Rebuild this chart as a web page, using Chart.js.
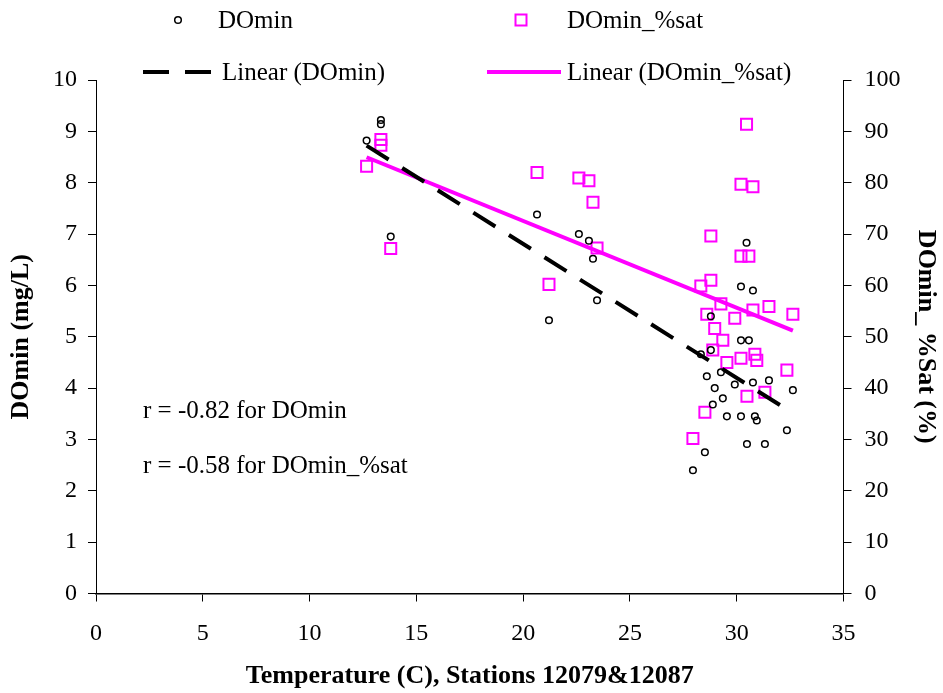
<!DOCTYPE html>
<html>
<head>
<meta charset="utf-8">
<script src="https://cdn.jsdelivr.net/npm/chart.js@4.4.0/dist/chart.umd.min.js"></script>
<style>
  html, body { margin: 0; padding: 0; background: #fff; }
  #wrap { width: 943px; height: 693px; }
</style>
</head>
<body>
<div id="wrap"><canvas id="chart" width="943" height="693"></canvas></div>
<script>
// === Data ===
const temperature = [13.34, 13.34, 12.67, 13.80, 20.65, 22.61, 23.08, 23.27, 23.46, 21.21,
    30.46, 30.20, 30.76, 28.79, 30.20, 30.57, 28.79, 28.32, 28.60, 29.26,
    28.97, 29.91, 30.76, 31.51, 32.63, 29.35, 28.88, 29.54, 30.20, 30.85,
    30.94, 32.35, 30.48, 31.32, 28.51, 27.95];
const doMin = [9.22, 9.14, 8.82, 6.95, 7.38, 7.00, 6.87, 6.52, 5.71, 5.32,
    6.83, 5.98, 5.90, 5.40, 4.93, 4.93, 4.74, 4.66, 4.23, 4.31,
    4.00, 4.07, 4.11, 4.15, 3.96, 3.80, 3.68, 3.45, 3.45, 3.45,
    3.37, 3.18, 2.91, 2.91, 2.75, 2.40];
const doMinSat = [88.4, 87.3, 83.2, 67.2, 82.0, 80.9, 80.4, 76.2, 67.3, 60.2,
    91.4, 79.7, 79.2, 69.6, 65.7, 65.7, 61.0, 59.9, 54.4, 56.4,
    51.6, 53.6, 55.2, 55.9, 54.4, 49.3, 47.4, 45.0, 45.8, 46.6,
    45.4, 43.5, 38.4, 39.2, 35.3, 30.2];
const xTicks = { min: 0, max: 35, step: 5 };
const yLeftTicks = { min: 0, max: 10, step: 1 };
const yRightTicks = { min: 0, max: 100, step: 10 };
const notes = ['r = -0.82 for DOmin', 'r = -0.58 for DOmin_%sat'];

// === Helpers ===
const SERIF = '"Liberation Serif", "Times New Roman", serif';
const PINK = '#ff00ff';
const TICK_SIZE = 24;
const TEXT_SIZE = 25;
const TITLE_SIZE = 26;

function toPoints(xs, ys) {
    return xs.map((x, i) => ({ x: x, y: ys[i] }));
}

// least squares trendline, same as the spreadsheet "Linear" trendline
function trendLine(xs, ys) {
    const n = xs.length;
    const mx = xs.reduce((a, b) => a + b, 0) / n;
    const my = ys.reduce((a, b) => a + b, 0) / n;
    let sxy = 0, sxx = 0;
    for (let i = 0; i < n; i++) {
        sxy += (xs[i] - mx) * (ys[i] - my);
        sxx += (xs[i] - mx) * (xs[i] - mx);
    }
    const slope = sxy / sxx;
    const b = my - slope * mx;
    const lo = Math.min(...xs), hi = Math.max(...xs);
    return [{ x: lo, y: slope * lo + b }, { x: hi, y: slope * hi + b }];
}

// === Custom legend (2 x 2) + r notes ===
const extrasPlugin = {
    id: 'extras',
    afterDraw(chart) {
        const ctx = chart.ctx;
        const area = chart.chartArea;
        ctx.save();
        ctx.fillStyle = '#000';
        ctx.font = TEXT_SIZE + 'px ' + SERIF;
        ctx.textBaseline = 'middle';

        // row 1: markers
        ctx.beginPath();
        ctx.arc(178, 20, 3.3, 0, Math.PI * 2);
        ctx.lineWidth = 1.5;
        ctx.strokeStyle = '#000';
        ctx.stroke();
        ctx.fillText('DOmin', 218, 21);

        ctx.strokeStyle = PINK;
        ctx.lineWidth = 2;
        ctx.strokeRect(515.5, 14.5, 11, 11);
        ctx.fillText('DOmin_%sat', 567, 21);

        // row 2: trendlines
        ctx.beginPath();
        ctx.setLineDash([26, 16]);
        ctx.strokeStyle = '#000';
        ctx.lineWidth = 4;
        ctx.moveTo(143, 72);
        ctx.lineTo(213, 72);
        ctx.stroke();
        ctx.setLineDash([]);
        ctx.fillText('Linear (DOmin)', 222, 73);

        ctx.beginPath();
        ctx.strokeStyle = PINK;
        ctx.moveTo(487, 72);
        ctx.lineTo(561, 72);
        ctx.stroke();
        ctx.fillText('Linear (DOmin_%sat)', 567, 73);

        // correlation notes
        ctx.fillText(notes[0], area.left + 47, 411);
        ctx.fillText(notes[1], area.left + 47, 466);
        ctx.restore();
    }
};

function axisGrid() {
    return {
        display: true,
        drawOnChartArea: false,
        drawTicks: true,
        tickLength: 8,
        tickWidth: 1,
        color: '#000'
    };
}

const ctx = document.getElementById('chart').getContext('2d');
new Chart(ctx, {
    type: 'scatter',
    data: {
        datasets: [
            {
                label: 'DOmin',
                data: toPoints(temperature, doMin),
                yAxisID: 'y',
                pointStyle: 'circle',
                pointRadius: 3.3,
                pointBorderWidth: 1.5,
                borderColor: '#000',
                backgroundColor: 'rgba(0,0,0,0)',
                order: 2
            },
            {
                label: 'DOmin_%sat',
                data: toPoints(temperature, doMinSat),
                yAxisID: 'y1',
                pointStyle: 'rect',
                pointRadius: 7.8,
                pointBorderWidth: 2,
                borderColor: PINK,
                backgroundColor: 'rgba(0,0,0,0)',
                order: 3
            },
            {
                label: 'Linear (DOmin)',
                data: trendLine(temperature, doMin),
                yAxisID: 'y',
                showLine: true,
                pointRadius: 0,
                borderColor: '#000',
                borderWidth: 4,
                borderDash: [26, 16],
                order: 1
            },
            {
                label: 'Linear (DOmin_%sat)',
                data: trendLine(temperature, doMinSat),
                yAxisID: 'y1',
                showLine: true,
                pointRadius: 0,
                borderColor: PINK,
                borderWidth: 4,
                order: 1
            }
        ]
    },
    options: {
        responsive: false,
        animation: false,
        layout: { padding: { top: 80, left: 0, right: 0, bottom: 0 } },
        plugins: {
            legend: { display: false },
            tooltip: { enabled: false }
        },
        scales: {
            x: {
                type: 'linear',
                min: xTicks.min,
                max: xTicks.max,
                grid: axisGrid(),
                border: { display: true, color: '#000', width: 1.5 },
                ticks: {
                    stepSize: xTicks.step,
                    color: '#000',
                    padding: 18,
                    maxRotation: 0,
                    font: { family: SERIF, size: TICK_SIZE }
                },
                title: {
                    display: true,
                    text: 'Temperature (C), Stations 12079&12087',
                    color: '#000',
                    font: { family: SERIF, size: TITLE_SIZE, weight: 'bold' },
                    padding: { top: 0, bottom: 1 }
                },
                afterFit(scale) { scale.height = 99.5; }
            },
            y: {
                type: 'linear',
                position: 'left',
                min: yLeftTicks.min,
                max: yLeftTicks.max,
                grid: axisGrid(),
                border: { display: true, color: '#000', width: 1 },
                ticks: {
                    stepSize: yLeftTicks.step,
                    color: '#000',
                    padding: 11,
                    font: { family: SERIF, size: TICK_SIZE }
                },
                title: {
                    display: true,
                    text: 'DOmin (mg/L)',
                    color: '#000',
                    font: { family: SERIF, size: TITLE_SIZE, weight: 'bold' },
                    padding: { top: 6, bottom: 0 }
                },
                afterFit(scale) { scale.width = 96; }
            },
            y1: {
                type: 'linear',
                position: 'right',
                min: yRightTicks.min,
                max: yRightTicks.max,
                grid: axisGrid(),
                border: { display: true, color: '#000', width: 1 },
                ticks: {
                    stepSize: yRightTicks.step,
                    color: '#000',
                    padding: 13,
                    font: { family: SERIF, size: TICK_SIZE }
                },
                title: {
                    display: true,
                    text: 'DOmin_ %Sat (%)',
                    color: '#000',
                    font: { family: SERIF, size: TITLE_SIZE, weight: 'bold' },
                    padding: { top: 2, bottom: 0 }
                },
                afterFit(scale) { scale.width = 99.5; }
            }
        }
    },
    plugins: [extrasPlugin]
});
</script>
</body>
</html>
